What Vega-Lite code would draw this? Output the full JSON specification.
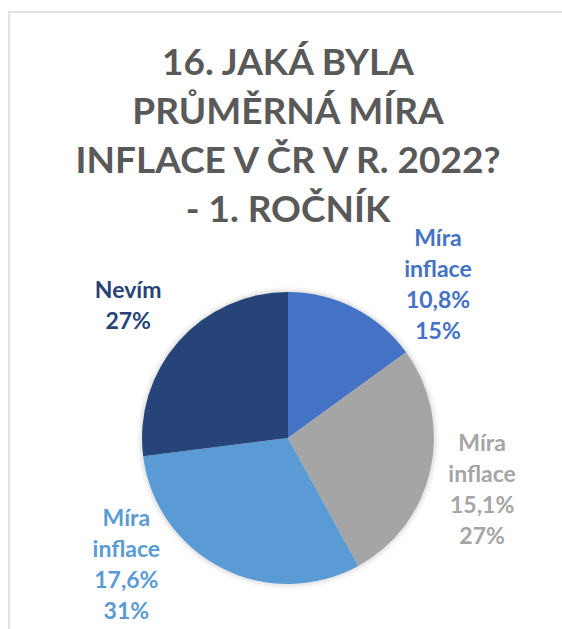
{
  "$schema": "https://vega.github.io/schema/vega-lite/v6.json",
  "autosize": {"type": "none"},
  "padding": {"left": 9, "top": 12, "right": 0, "bottom": 0},
  "width": 558,
  "height": 852,
  "background": "white",
  "view": {"stroke": "#d9d9d9", "strokeWidth": 1.5},
  "config": {
    "view": {"stroke": "#d9d9d9", "strokeWidth": 1.5},
    "font": "Lato"
  },
  "title": {
    "text": ["16. JAKÁ BYLA", "PRŮMĚRNÁ MÍRA", "INFLACE V ČR V R. 2022?", "- 1. ROČNÍK"],
    "anchor": "middle",
    "font": "Lato",
    "fontSize": 37,
    "fontWeight": "bold",
    "color": "#595959",
    "lineHeight": 49,
    "offset": -218
  },
  "data": {
    "values": [
      {"kategorie": "Míra inflace 10,8%", "podil": 15, "popisek": "Míra\ninflace\n10,8%\n15%"},
      {"kategorie": "Míra inflace 15,1%", "podil": 27, "popisek": "Míra\ninflace\n15,1%\n27%"},
      {"kategorie": "Míra inflace 17,6%", "podil": 31, "popisek": "Míra\ninflace\n17,6%\n31%"},
      {"kategorie": "Nevím", "podil": 27, "popisek": "Nevím\n27%"}
    ]
  },
  "transform": [
    {"stack": "podil", "groupby": [], "as": ["t0", "t1"], "sort": [{"field": "kategorie", "order": "ascending"}]}
  ],
  "encoding": {
    "theta": {"field": "t0", "type": "quantitative", "scale": {"domain": [0, 100]}},
    "color": {
      "field": "kategorie",
      "type": "nominal",
      "scale": {
        "domain": ["Míra inflace 10,8%", "Míra inflace 15,1%", "Míra inflace 17,6%", "Nevím"],
        "range": ["#4472C4", "#A5A5A5", "#5B9BD5", "#264478"]
      },
      "legend": null
    }
  },
  "layer": [
    {
      "mark": {"type": "arc", "outerRadius": 151, "color": "#000000", "opacity": 0.03},
      "encoding": {"theta2": {"field": "t1"}, "color": {"value": "#000000"}}
    },
    {
      "mark": {"type": "arc", "outerRadius": 148.5, "color": "#000000", "opacity": 0.05},
      "encoding": {"theta2": {"field": "t1"}, "color": {"value": "#000000"}}
    },
    {
      "mark": {"type": "arc", "outerRadius": 146},
      "encoding": {"theta2": {"field": "t1"}}
    },
    {
      "transform": [{"filter": "datum.kategorie == 'Míra inflace 10,8%'"}],
      "mark": {"type": "text", "radius": 146, "dx": 150, "dy": -53, "lineBreak": "\n", "lineHeight": 31, "fontSize": 23, "fontWeight": "bold", "align": "center", "baseline": "middle"},
      "encoding": {"text": {"field": "popisek"}}
    },
    {
      "transform": [{"filter": "datum.kategorie == 'Míra inflace 15,1%'"}],
      "mark": {"type": "text", "radius": 146, "dx": 76, "dy": 92, "lineBreak": "\n", "lineHeight": 31, "fontSize": 23, "fontWeight": "bold", "align": "center", "baseline": "middle"},
      "encoding": {"text": {"field": "popisek"}}
    },
    {
      "transform": [{"filter": "datum.kategorie == 'Míra inflace 17,6%'"}],
      "mark": {"type": "text", "radius": 146, "dx": -232, "dy": -47, "lineBreak": "\n", "lineHeight": 31, "fontSize": 23, "fontWeight": "bold", "align": "center", "baseline": "middle"},
      "encoding": {"text": {"field": "popisek"}}
    },
    {
      "transform": [{"filter": "datum.kategorie == 'Nevím'"}],
      "mark": {"type": "text", "radius": 146, "dx": -15, "dy": -165, "lineBreak": "\n", "lineHeight": 31, "fontSize": 23, "fontWeight": "bold", "align": "center", "baseline": "middle"},
      "encoding": {"text": {"field": "popisek"}}
    }
  ]
}
